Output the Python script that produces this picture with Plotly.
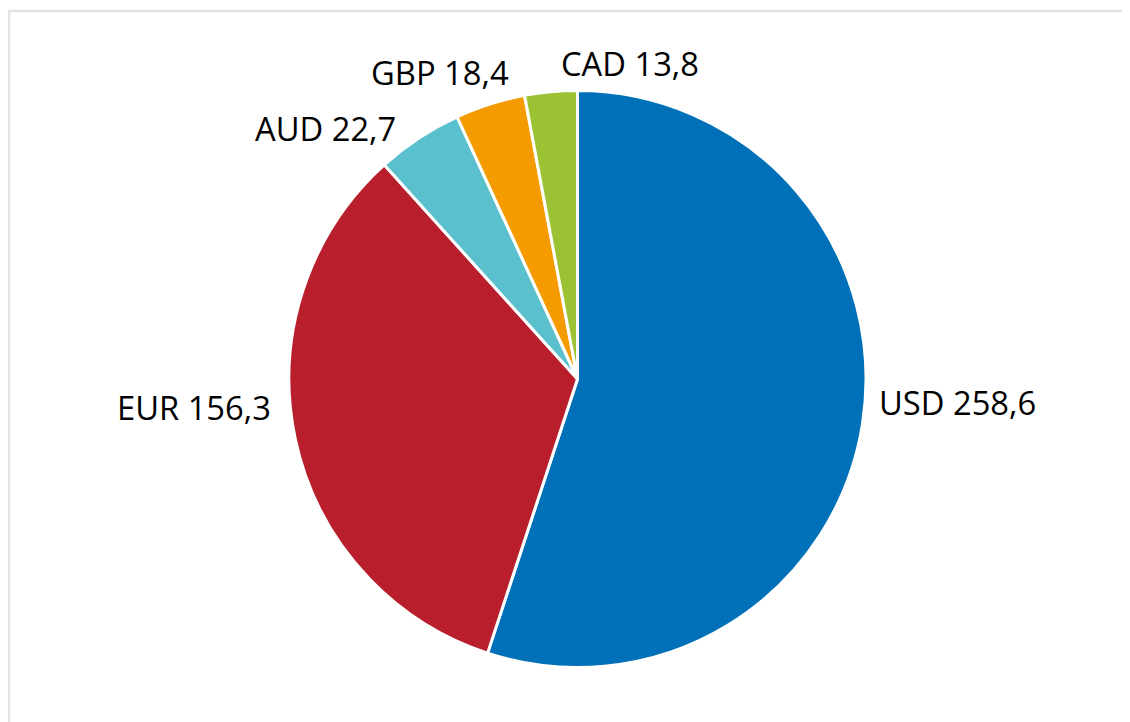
import plotly.graph_objects as go

currencies = ["USD", "EUR", "AUD", "GBP", "CAD"]
values = [258.6, 156.3, 22.7, 18.4, 13.8]
colors = ["#0070B8", "#B81E2B", "#5BC0CE", "#F59B00", "#9BC232"]

labels_text = [f"{c} {str(v).replace('.', ',')}" for c, v in zip(currencies, values)]

W, H = 1122, 714
cx, cy, r = 569.5, 371, 288.5  # pie centre/radius in figure pixels

# label placement (layout only): pixel x, pixel y, anchor
label_pos = [
    (868.5, 394.5, "left"),
    (264.5, 399.5, "right"),
    (389.5, 120, "right"),
    (432, 64.5, "center"),
    (621.5, 55.5, "center"),
]

fig = go.Figure(go.Pie(
    labels=currencies,
    values=values,
    textinfo="none",
    sort=False,
    direction="clockwise",
    rotation=0,
    marker=dict(colors=colors, line=dict(color="white", width=3)),
    showlegend=False,
    hoverinfo="label+value",
    domain=dict(x=[(cx - r) / W, (cx + r) / W], y=[(H - cy - r) / H, (H - cy + r) / H]),
))

annotations = []
for txt, (px, py, anc) in zip(labels_text, label_pos):
    annotations.append(dict(
        text=txt, x=px / W, y=1 - py / H, xref="paper", yref="paper",
        xanchor=anc, yanchor="middle", showarrow=False,
        font=dict(family="Open Sans", size=32.7, color="#000000"),
    ))

fig.update_layout(
    width=W, height=H,
    margin=dict(l=0, r=0, t=0, b=0),
    paper_bgcolor="white",
    plot_bgcolor="white",
    annotations=annotations,
    shapes=[
        dict(type="line", xref="paper", yref="paper", x0=0, x1=1, y0=1 - 3 / H, y1=1 - 3 / H,
             line=dict(color="#E3E3E3", width=2.5)),
        dict(type="line", xref="paper", yref="paper", x0=1 / W, x1=1 / W, y0=0, y1=1 - 2 / H,
             line=dict(color="#E3E3E3", width=2.5)),
    ],
)

fig.write_html("out.html")
